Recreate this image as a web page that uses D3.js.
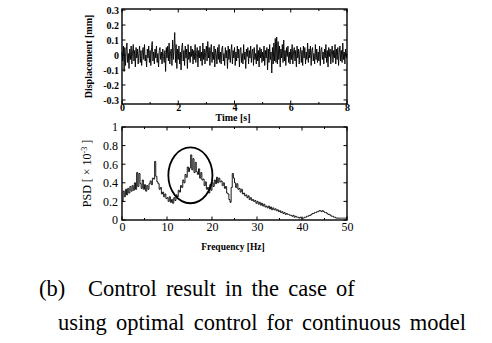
<!DOCTYPE html>
<html lang="en">
<head>
<meta charset="UTF-8">
<title>Control result - displacement and PSD</title>
<script src="https://d3js.org/d3.v7.min.js"></script>
<style>
    body { margin: 0; background: #fff; }
    svg { display: block; }
    svg text { font-family: "Liberation Serif", "Times New Roman", "DejaVu Serif", serif; }
    .frame { fill: none; stroke: #000; stroke-width: 1.4px; }
    .tick-lbl-b { font-weight: bold; font-size: 10px; }
    .tick-lbl { font-size: 12px; }
    .signal { fill: none; stroke: #000; stroke-width: 0.9px; }
    .caption { font-size: 22.5px; word-spacing: 3.5px; }
</style>
</head>
<body>
<div id="chart"></div>
<script>
    // displacement [mm], sampled every 0.025 s from 0 to 8 s
    const timeStep = 0.025;
    const displacement = [
        0.02,-0.04,0.06,-0.11,0.05,-0.07,0.03,0.08,-0.05,0.01,-0.09,0.04,-0.03,0.06,-0.06,0.02,0.07,-0.04,0.03,-0.08,
        0.05,-0.02,0.04,-0.06,0.01,0.06,-0.05,0.03,-0.07,0.02,0.05,-0.03,0.07,-0.04,0.00,-0.08,0.04,-0.02,0.06,-0.05,
        0.03,-0.07,0.05,0.09,-0.04,0.02,-0.06,0.04,-0.02,0.06,-0.05,0.01,-0.08,0.03,0.05,-0.03,0.02,-0.06,0.04,-0.01,
        -0.05,0.03,-0.11,0.05,-0.02,0.06,-0.04,0.08,-0.06,0.02,0.04,-0.07,0.10,-0.03,0.05,0.15,-0.05,0.07,-0.09,0.04,
        -0.03,0.06,-0.06,0.02,-0.10,0.05,0.08,-0.04,0.03,-0.07,0.06,-0.02,0.04,-0.09,0.07,-0.03,0.02,-0.05,0.06,-0.01,
        0.04,-0.06,0.03,-0.03,0.07,-0.05,0.01,0.05,-0.08,0.03,-0.02,0.06,-0.04,0.02,-0.07,0.08,-0.03,0.04,-0.06,0.02,
        0.06,-0.04,0.09,-0.02,0.05,-0.07,0.03,0.07,-0.05,0.02,-0.03,0.06,-0.08,0.04,0.01,-0.06,0.05,-0.03,0.07,-0.05,
        0.02,-0.06,0.04,0.06,-0.04,0.01,-0.07,0.05,-0.02,0.03,-0.09,0.06,-0.03,0.04,-0.05,0.02,0.07,-0.06,0.03,-0.02,
        0.05,-0.07,0.02,-0.04,0.06,-0.02,0.04,-0.08,0.03,0.05,-0.05,0.01,-0.06,0.07,-0.03,0.02,-0.09,0.04,-0.01,0.05,
        -0.06,0.03,-0.02,0.06,-0.05,0.02,0.04,-0.07,0.05,-0.03,0.01,-0.06,0.07,-0.04,0.03,-0.08,0.05,-0.02,0.04,-0.05,
        0.02,-0.04,0.06,-0.07,0.03,-0.02,0.05,-0.10,0.04,-0.05,0.07,-0.03,0.02,-0.12,0.05,-0.06,0.08,-0.04,0.11,-0.05,
        0.12,-0.06,0.09,-0.03,0.06,-0.08,0.04,-0.02,0.07,-0.05,0.10,-0.04,0.03,-0.07,0.05,-0.01,0.06,-0.05,0.02,-0.06,
        0.04,-0.03,0.07,-0.06,0.02,0.05,-0.04,0.03,-0.08,0.06,-0.02,0.04,-0.06,0.02,0.05,-0.05,0.03,-0.07,0.06,-0.02,
        0.05,-0.06,0.02,-0.03,0.08,-0.05,0.04,-0.02,0.06,-0.07,0.03,0.05,-0.04,0.01,-0.06,0.07,-0.03,0.04,-0.05,0.02,
        -0.04,0.06,-0.07,0.03,0.05,-0.03,0.02,-0.06,0.04,-0.02,0.07,-0.05,0.03,-0.08,0.05,-0.01,0.04,-0.06,0.02,0.06,
        -0.05,0.03,-0.02,0.07,-0.06,0.04,-0.03,0.05,-0.07,0.02,0.06,-0.04,0.03,-0.05,0.08,-0.03,0.02,-0.06,0.04,-0.02,
        0.01
    ];

    // PSD [x10^-3], sampled every 0.25 Hz from 0 to 50 Hz
    const freqStep = 0.25;
    const psd = [
        0.20,0.31,0.25,0.33, 0.27,0.34,0.29,0.36, 0.31,0.37,0.32,0.40, 0.33,0.51,0.36,0.50,
        0.39,0.34,0.43,0.33, 0.38,0.31,0.37,0.33, 0.39,0.42,0.38,0.45, 0.44,0.63,0.47,0.41,
        0.39,0.33,0.35,0.28, 0.30,0.25,0.28,0.23, 0.24,0.20,0.25,0.19, 0.22,0.18,0.24,0.21,
        0.27,0.25,0.32,0.30, 0.37,0.35,0.43,0.40, 0.49,0.46,0.57,0.52, 0.56,0.70,0.54,0.66,
        0.51,0.62,0.52,0.49, 0.55,0.45,0.51,0.43, 0.44,0.37,0.41,0.33, 0.35,0.29,0.38,0.32,
        0.40,0.36,0.43,0.39, 0.46,0.40,0.45,0.41, 0.42,0.37,0.40,0.34, 0.36,0.29,0.28,0.22,
        0.19,0.35,0.50,0.45, 0.40,0.35,0.39,0.33, 0.34,0.30,0.33,0.28, 0.29,0.26,0.27,0.24,
        0.26,0.22,0.24,0.21, 0.22,0.20,0.21,0.18, 0.20,0.17,0.19,0.16, 0.18,0.15,0.17,0.14,
        0.15,0.13,0.15,0.12, 0.14,0.11,0.13,0.11, 0.12,0.10,0.11,0.09, 0.10,0.08,0.09,0.07,
        0.08,0.06,0.07,0.06, 0.06,0.05,0.05,0.04, 0.05,0.03,0.04,0.03, 0.03,0.02,0.03,0.02,
        0.02,0.02,0.03,0.03, 0.04,0.04,0.05,0.05, 0.06,0.07,0.07,0.08, 0.08,0.09,0.09,0.10,
        0.10,0.09,0.10,0.09, 0.08,0.08,0.07,0.06, 0.06,0.05,0.04,0.04, 0.03,0.03,0.02,0.02,
        0.02,0.02,0.02,0.02, 0.02,0.02,0.02,0.02, 0.02
    ];

    const timeTicks = [0, 2, 4, 6, 8];
    const timeMinor = [1, 3, 5, 7];
    const dispTicks = [0.3, 0.2, 0.1, 0, -0.1, -0.2, -0.3];
    const freqTicks = [0, 10, 20, 30, 40, 50];
    const freqMinor = [5, 15, 25, 35, 45];
    const psdTicks = [0, 0.2, 0.4, 0.6, 0.8, 1];

    // marked region around the 15 Hz peak
    const circleCenter = { f: 15.2, v: 0.48 };
    const circleRadius = { f: 4.9, v: 0.3 };

    const W = 492, H = 343;
    const svg = d3.select("#chart").append("svg")
        .attr("width", W).attr("height", H);

    const left = 122, right = 347;

    // ---- top: displacement ----
    const x1 = d3.scaleLinear().domain([0, 8]).range([left, right]);
    const y1 = d3.scaleLinear().domain([-0.327, 0.307]).range([104, 9]);

    const topG = svg.append("g");

    topG.append("path")
        .datum(displacement)
        .attr("class", "signal")
        .attr("d", d3.line().x((d, i) => x1(i * timeStep)).y(d => y1(d)));

    drawFrame(topG, x1, y1, timeTicks, timeMinor, dispTicks, 3.5, 2);

    topG.append("g")
        .attr("transform", `translate(0,${y1.range()[0]})`)
        .call(d3.axisBottom(x1).tickValues(timeTicks).tickSize(0).tickPadding(0).tickFormat(d => String(d)))
        .call(cleanAxis, "tick-lbl-b");

    topG.append("g")
        .attr("transform", `translate(${left},0)`)
        .call(d3.axisLeft(y1).tickValues(dispTicks).tickSize(0).tickPadding(3).tickFormat(d => String(d)))
        .call(cleanAxis, "tick-lbl-b");

    svg.append("text")
        .attr("transform", `translate(92,${(y1.range()[0] + y1.range()[1]) / 2}) rotate(-90)`)
        .attr("text-anchor", "middle")
        .attr("font-weight", "bold").attr("font-size", 10)
        .text("Displacement [mm]");

    svg.append("text")
        .attr("x", 233).attr("y", 121)
        .attr("text-anchor", "middle")
        .attr("font-weight", "bold").attr("font-size", 10)
        .text("Time [s]");

    // ---- bottom: PSD ----
    const x2 = d3.scaleLinear().domain([0, 50]).range([left, right]);
    const y2 = d3.scaleLinear().domain([0, 1]).range([220, 127]);

    const botG = svg.append("g");

    botG.append("path")
        .datum(psd)
        .attr("class", "signal")
        .attr("stroke-width", 1)
        .attr("d", d3.line().curve(d3.curveStepAfter).x((d, i) => x2(i * freqStep)).y(d => y2(d)));

    botG.append("ellipse")
        .attr("cx", x2(circleCenter.f))
        .attr("cy", y2(circleCenter.v))
        .attr("rx", x2(circleCenter.f + circleRadius.f) - x2(circleCenter.f))
        .attr("ry", y2(0) - y2(circleRadius.v))
        .attr("fill", "none").attr("stroke", "#000").attr("stroke-width", 1.8);

    drawFrame(botG, x2, y2, freqTicks, freqMinor, psdTicks, 3.5, 2);

    botG.append("g")
        .attr("transform", `translate(0,${y2.range()[0]})`)
        .call(d3.axisBottom(x2).tickValues(freqTicks).tickSize(0).tickPadding(2).tickFormat(d => String(d)))
        .call(cleanAxis, "tick-lbl");

    botG.append("g")
        .attr("transform", `translate(${left},0)`)
        .call(d3.axisLeft(y2).tickValues(psdTicks).tickSize(0).tickPadding(4).tickFormat(d => String(d)))
        .call(cleanAxis, "tick-lbl");

    const psdLabel = svg.append("text")
        .attr("transform", `translate(91,${(y2.range()[0] + y2.range()[1]) / 2}) rotate(-90)`)
        .attr("text-anchor", "middle")
        .attr("font-size", 12);
    psdLabel.append("tspan").text("PSD [ \u00d7 10");
    psdLabel.append("tspan").attr("dy", -4).attr("font-size", 8).text("-3");
    psdLabel.append("tspan").attr("dy", 4).text(" ]");

    svg.append("text")
        .attr("x", 233).attr("y", 250)
        .attr("text-anchor", "middle")
        .attr("font-weight", "bold").attr("font-size", 9.5)
        .text("Frequency [Hz]");

    // ---- caption ----
    svg.append("text").attr("class", "caption")
        .attr("x", 39).attr("y", 296)
        .text("(b)");
    svg.append("text").attr("class", "caption")
        .attr("x", 88).attr("y", 296)
        .text("Control result in the case of");
    svg.append("text").attr("class", "caption")
        .attr("x", 58).attr("y", 330)
        .text("using optimal control for continuous model");

    function cleanAxis(g, cls) {
        g.attr("font-family", null).attr("font-size", null);
        g.select(".domain").remove();
        g.selectAll("text").attr("class", cls);
    }

    // box with inward ticks on all four sides
    function drawFrame(g, x, y, xt, xm, yt, major, minor) {
        const [x0, xe] = x.range();
        const [yb, yt0] = y.range();
        g.append("rect").attr("class", "frame")
            .attr("x", x0).attr("y", yt0).attr("width", xe - x0).attr("height", yb - yt0);
        const ticks = g.append("g").attr("stroke", "#000").attr("stroke-width", 1);
        const xs = xt.map(v => ({ v, l: major })).concat(xm.map(v => ({ v, l: minor })));
        xs.forEach(t => {
            ticks.append("line").attr("x1", x(t.v)).attr("x2", x(t.v)).attr("y1", yb).attr("y2", yb - t.l);
            ticks.append("line").attr("x1", x(t.v)).attr("x2", x(t.v)).attr("y1", yt0).attr("y2", yt0 + t.l);
        });
        yt.forEach(v => {
            ticks.append("line").attr("x1", x0).attr("x2", x0 + major).attr("y1", y(v)).attr("y2", y(v));
            ticks.append("line").attr("x1", xe).attr("x2", xe - major).attr("y1", y(v)).attr("y2", y(v));
        });
    }
</script>
</body>
</html>
